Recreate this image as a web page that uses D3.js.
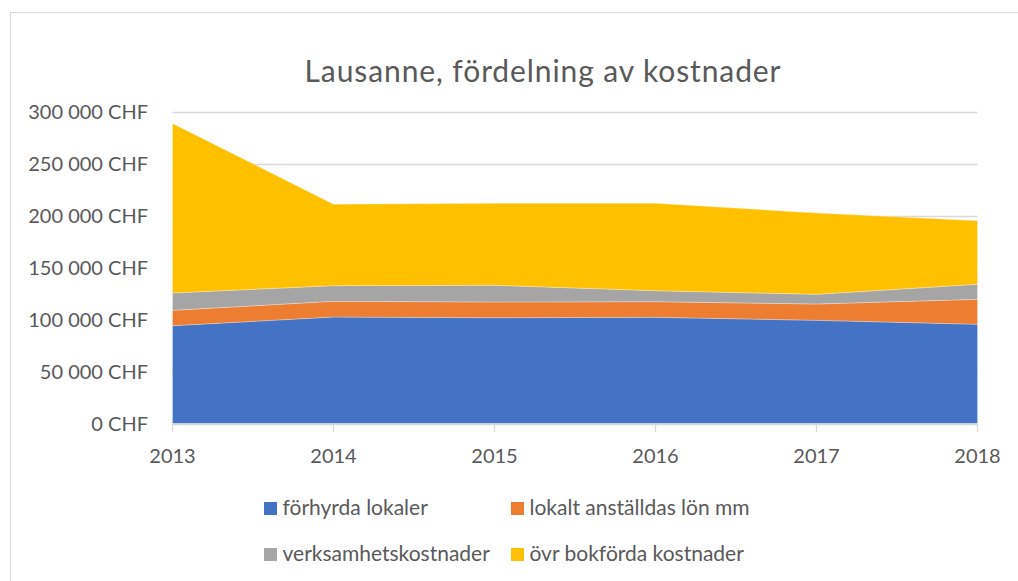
<!DOCTYPE html>
<html>
<head>
<meta charset="utf-8">
<script src="https://cdn.jsdelivr.net/npm/d3@7"></script>
<style>
  body { margin: 0; background: #fff; }
  text { font-family: Lato, "Open Sans", sans-serif; fill: #595959; }
</style>
</head>
<body>
<svg id="chart" width="1018" height="581"></svg>
<script>
// data
const years = [2013, 2014, 2015, 2016, 2017, 2018];
const forhyrdaLokaler = [94000, 102400, 101700, 102100, 99200, 95400];
const lokaltAnstallda = [14800, 15100, 15100, 15000, 15700, 24000];
const verksamhet = [16700, 15000, 16100, 10600, 9300, 14400];
const ovrBokforda = [163000, 78300, 78800, 84000, 78200, 61200];

const seriesNames = ["förhyrda lokaler", "lokalt anställdas lön mm", "verksamhetskostnader", "övr bokförda kostnader"];
const colors = ["#4472c4", "#ed7d31", "#a5a5a5", "#ffc000"];
const yTicks = [0, 50000, 100000, 150000, 200000, 250000, 300000];

const rows = years.map((y, i) => ({
    year: y,
    s0: forhyrdaLokaler[i],
    s1: lokaltAnstallda[i],
    s2: verksamhet[i],
    s3: ovrBokforda[i]
}));

const svg = d3.select("#chart");

// outer frame
svg.append("rect")
    .attr("x", 10.5).attr("y", 12.5)
    .attr("width", 1030).attr("height", 600)
    .attr("fill", "none").attr("stroke", "#d9d9d9");

const x = d3.scaleLinear().domain([2013, 2018]).range([172.5, 977.5]);
const y = d3.scaleLinear().domain([0, 300000]).range([423.5, 111.5]);

// gridlines
svg.append("g")
    .selectAll("line")
    .data(yTicks.slice(1))
    .enter()
    .append("line")
    .attr("x1", x(2013)).attr("x2", x(2018))
    .attr("y1", d => Math.round(y(d)) + 0.5)
    .attr("y2", d => Math.round(y(d)) + 0.5)
    .attr("stroke", "#d9d9d9").attr("stroke-width", 1.3);

const stack = d3.stack().keys(["s0", "s1", "s2", "s3"]);
const layers = stack(rows);

const area = d3.area()
    .x(d => x(d.data.year))
    .y0(d => y(d[0]))
    .y1(d => y(d[1]));

svg.append("g")
    .selectAll("path")
    .data(layers)
    .enter()
    .append("path")
    .attr("d", area)
    .attr("fill", (d, i) => colors[i])
    .attr("stroke", "#fff")
    .attr("stroke-opacity", 0.35)
    .attr("stroke-width", 0.8);

// x axis line + ticks
svg.append("line")
    .attr("x1", x(2013)).attr("x2", x(2018))
    .attr("y1", 424.5).attr("y2", 424.5)
    .attr("stroke", "#d9d9d9").attr("stroke-width", 1.3);

svg.append("g")
    .selectAll("line")
    .data(years)
    .enter()
    .append("line")
    .attr("x1", d => x(d)).attr("x2", d => x(d))
    .attr("y1", 424).attr("y2", 432)
    .attr("stroke", "#d9d9d9").attr("stroke-width", 1.3);

// x labels
svg.append("g")
    .selectAll("text")
    .data(years)
    .enter()
    .append("text")
    .attr("x", d => x(d))
    .attr("y", 463)
    .attr("text-anchor", "middle")
    .style("font-size", "20px")
    .text(d => d);

// y labels
const fmt = v => (v === 0 ? "0" : d3.format(",")(v).replace(/,/g, " ")) + " CHF";
svg.append("g")
    .selectAll("text")
    .data(yTicks)
    .enter()
    .append("text")
    .attr("x", 148)
    .attr("y", d => y(d) + 7.5)
    .attr("text-anchor", "end")
    .style("font-size", "20px")
    .text(fmt);

// title
svg.append("text")
    .attr("x", 543)
    .attr("y", 82)
    .attr("text-anchor", "middle")
    .style("font-size", "30px")
    .style("letter-spacing", "0.9px")
    .text("Lausanne, fördelning av kostnader");

// legend, 2 columns
const legendPos = [[264, 502], [511, 502], [264, 548], [511, 548]];
const legend = svg.append("g")
    .selectAll("g")
    .data(seriesNames)
    .enter()
    .append("g")
    .attr("transform", (d, i) => `translate(${legendPos[i][0]},${legendPos[i][1]})`);

legend.append("rect")
    .attr("width", 13).attr("height", 13)
    .attr("fill", (d, i) => colors[i]);

legend.append("text")
    .attr("x", 18.5)
    .attr("y", 13)
    .style("font-size", "21px")
    .text(d => d);
</script>
</body>
</html>
